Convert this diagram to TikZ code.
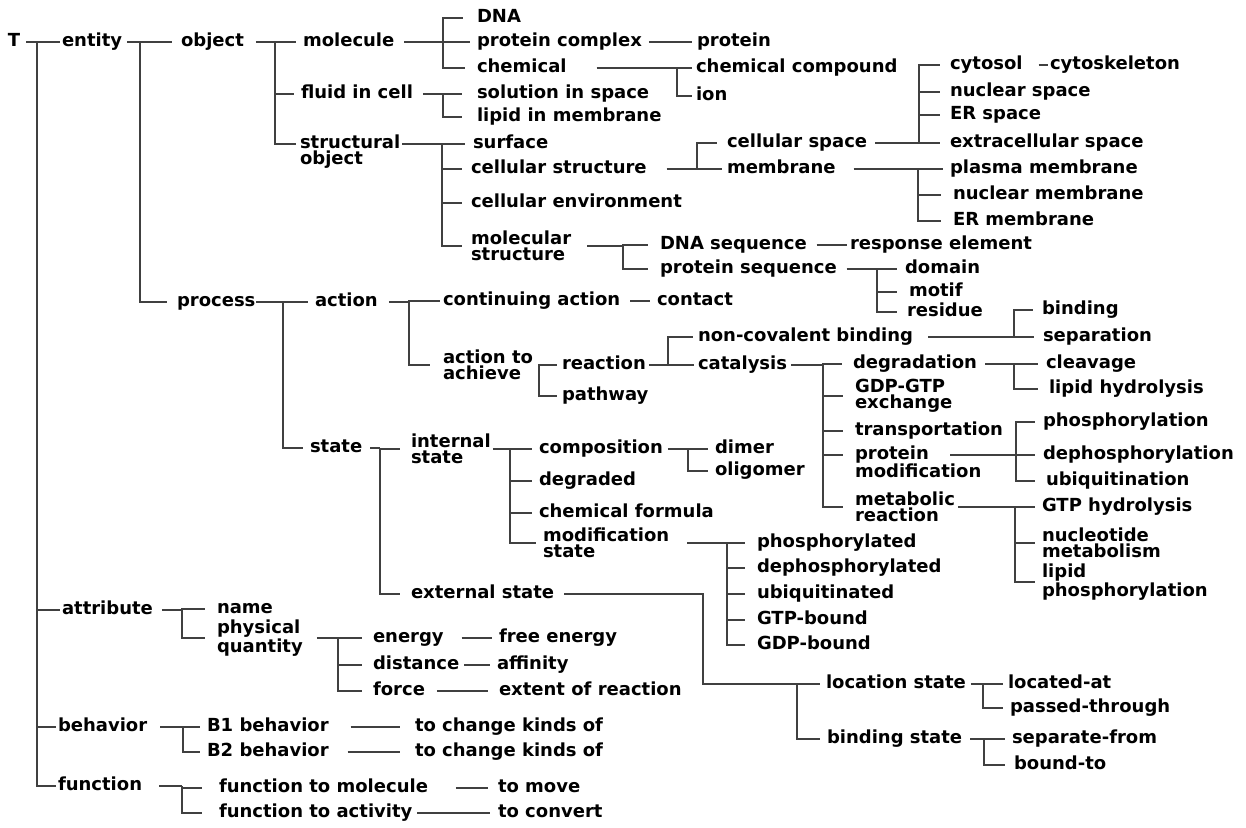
\documentclass[tikz,border=0pt]{standalone}
\usepackage{fontspec}
\newfontfamily\lblfam{DejaVu Sans}
\newcommand\lblfont{\lblfam\bfseries\fontsize{18pt}{16pt}\selectfont}
\newcommand\vt[2]{\vtop{\baselineskip=16pt\hbox{#1}\hbox{#2}}}
\tikzset{
  lbl/.style={anchor=west, inner sep=0pt, outer sep=0pt, font=\lblfont, text height=13pt, text depth=4pt},
  two/.style={lbl, align=left, text height=, text depth=},
  conn/.style={draw=black!75, line width=1.7pt},
}
% #1 start point, #2 parent, #3 bar x, #4 children as name/gap
\newcommand\mybr[4]{%
  \coordinate (bx) at (#3,0);
  \draw[conn] (#1) -- (#2.west -| bx);
  \foreach \c/\g in {#4} {\draw[conn] (#2.west -| bx) |- ([xshift=-\g pt]\c.west);}
}
\begin{document}
\begin{tikzpicture}[x=1pt,y=-1pt]
\useasboundingbox[fill=white] (0,0) rectangle (1246,827);
% ---------- nodes ----------
\node[lbl] (T) at (8,42) {T};
\node[lbl] (entity) at (62,42) {entity};
\node[lbl] (object) at (181,42) {object};
\node[lbl] (molecule) at (303,42) {molecule};
\node[lbl] (dna) at (477,18) {DNA};
\node[lbl] (pcomplex) at (477,42) {protein complex};
\node[lbl] (protein) at (697,42) {protein};
\node[lbl] (chemical) at (477,68) {chemical};
\node[lbl] (chemcomp) at (696,68) {chemical compound};
\node[lbl] (ion) at (696,96) {ion};
\node[lbl] (fluid) at (301,94) {fluid in cell};
\node[lbl] (solution) at (477,94) {solution in space};
\node[lbl] (lipidmem) at (477,117) {lipid in membrane};
\node[lbl] (structobj) at (300,144) {\vt{structural}{object}};
\node[lbl] (surface) at (473,144) {surface};
\node[lbl] (cellstruct) at (471,169) {cellular structure};
\node[lbl] (cellenv) at (471,203) {cellular environment};
\node[two] (molstruct) at (471,246) {molecular\\structure};
\node[lbl] (cellspace) at (727,143) {cellular space};
\node[lbl] (membrane) at (727,169) {membrane};
\node[lbl] (cytosol) at (950,65) {cytosol};
\node[lbl] (cytoskel) at (1050,65) {cytoskeleton};
\node[lbl] (nucspace) at (950,92) {nuclear space};
\node[lbl] (erspace) at (950,115) {ER space};
\node[lbl] (extraspace) at (950,143) {extracellular space};
\node[lbl] (plasma) at (950,169) {plasma membrane};
\node[lbl] (nucmem) at (953,195) {nuclear membrane};
\node[lbl] (ermem) at (953,221) {ER membrane};
\node[lbl] (dnaseq) at (660,245) {DNA sequence};
\node[lbl] (respel) at (850,245) {response element};
\node[lbl] (protseq) at (660,269) {protein sequence};
\node[lbl] (domain) at (905,269) {domain};
\node[lbl] (motif) at (909,292) {motif};
\node[lbl] (residue) at (907,312) {residue};
\node[lbl] (process) at (177,302) {process};
\node[lbl] (action) at (315,302) {action};
\node[lbl] (contaction) at (443,301) {continuing action};
\node[lbl] (contact) at (657,301) {contact};
\node[two] (achieve) at (443,365) {action to\\achieve};
\node[lbl] (reaction) at (562,365) {reaction};
\node[lbl] (pathway) at (562,396) {pathway};
\node[lbl] (noncov) at (698,337) {non-covalent binding};
\node[lbl] (catalysis) at (698,365) {catalysis};
\node[lbl] (binding) at (1042,310) {binding};
\node[lbl] (separation) at (1043,337) {separation};
\node[lbl] (degradation) at (853,364) {degradation};
\node[lbl] (cleavage) at (1046,364) {cleavage};
\node[lbl] (liphyd) at (1049,389) {lipid hydrolysis};
\node[two] (gdpgtp) at (855,396) {GDP-GTP\\exchange};
\node[lbl] (transport) at (855,431) {transportation};
\node[lbl] (protmod) at (855,455) {\vt{protein}{modification}};
\node[two] (metabolic) at (855,507) {metabolic\\reaction};
\node[lbl] (phosph) at (1043,422) {phosphorylation};
\node[lbl] (dephosph) at (1043,455) {dephosphorylation};
\node[lbl] (ubiq) at (1046,481) {ubiquitination};
\node[lbl] (gtphyd) at (1042,507) {GTP hydrolysis};
\node[two] (nucmet) at (1042,543) {nucleotide\\metabolism};
\node[two] (lipphos) at (1042,582) {lipid\\phosphorylation};
\node[lbl] (state) at (310,448) {state};
\node[two] (internal) at (411,449) {internal\\state};
\node[lbl] (composition) at (539,449) {composition};
\node[lbl] (dimer) at (715,449) {dimer};
\node[lbl] (oligomer) at (715,471) {oligomer};
\node[lbl] (degraded) at (539,481) {degraded};
\node[lbl] (chemform) at (539,513) {chemical formula};
\node[two] (modstate) at (543,543) {modification\\state};
\node[lbl] (phosphd) at (757,543) {phosphorylated};
\node[lbl] (dephosphd) at (757,568) {dephosphorylated};
\node[lbl] (ubiqd) at (757,594) {ubiquitinated};
\node[lbl] (gtpb) at (757,620) {GTP-bound};
\node[lbl] (gdpb) at (757,645) {GDP-bound};
\node[lbl] (extstate) at (411,594) {external state};
\node[lbl] (locstate) at (826,684) {location state};
\node[lbl] (locat) at (1008,684) {located-at};
\node[lbl] (passed) at (1010,708) {passed-through};
\node[lbl] (bindstate) at (827,739) {binding state};
\node[lbl] (sepfrom) at (1012,739) {separate-from};
\node[lbl] (boundto) at (1014,765) {bound-to};
\node[lbl] (attribute) at (62,610) {attribute};
\node[lbl] (name) at (217,609) {name};
\node[two] (physq) at (217,638) {physical\\quantity};
\node[lbl] (energy) at (373,638) {energy};
\node[lbl] (freeen) at (499,638) {free energy};
\node[lbl] (distance) at (373,665) {distance};
\node[lbl] (affinity) at (497,665) {affinity};
\node[lbl] (force) at (373,691) {force};
\node[lbl] (extent) at (499,691) {extent of reaction};
\node[lbl] (behavior) at (58,727) {behavior};
\node[lbl] (b1) at (207,727) {B1 behavior};
\node[lbl] (tochangeA) at (415,727) {to change kinds of};
\node[lbl] (b2) at (207,752) {B2 behavior};
\node[lbl] (tochangeB) at (415,752) {to change kinds of};
\node[lbl] (function) at (58,786) {function};
\node[lbl] (ftm) at (219,788) {function to molecule};
\node[lbl] (ftmove) at (498,788) {to move};
\node[lbl] (fta) at (219,813) {function to activity};
\node[lbl] (toconvert) at (498,813) {to convert};
% ---------- connectors ----------
\mybr{[xshift=6pt]T.east}{T}{37}{entity/2,attribute/2,behavior/2,function/2}
\mybr{[xshift=5pt]entity.east}{entity}{140}{object/9,process/10}
\mybr{[xshift=12pt]object.east}{object}{275}{molecule/7,fluid/7,structobj/4}
\mybr{[xshift=10pt]molecule.east}{molecule}{443}{dna/14,pcomplex/7,chemical/12}
\mybr{[xshift=7pt]pcomplex.east}{pcomplex}{670}{protein/5}
\mybr{[xshift=30pt]chemical.east}{chemical}{677}{chemcomp/4,ion/4}
\mybr{[xshift=10pt]fluid.east}{fluid}{443}{solution/15,lipidmem/15}
\mybr{[xshift=2pt]structobj.east}{structobj}{442}{surface/8,cellstruct/9,cellenv/9,molstruct/9}
\mybr{[xshift=20pt]cellstruct.east}{cellstruct}{697}{cellspace/10,membrane/5}
\mybr{[xshift=8pt]cellspace.east}{cellspace}{919}{cytosol/10,nucspace/10,erspace/10,extraspace/10}
\mybr{[xshift=16pt]cytosol.east}{cytosol}{1045}{cytoskel/2}
\mybr{[xshift=18pt]membrane.east}{membrane}{918}{plasma/7,nucmem/12,ermem/12}
\mybr{[xshift=16pt]molstruct.east}{molstruct}{623}{dnaseq/12,protseq/12}
\mybr{[xshift=10pt]dnaseq.east}{dnaseq}{835}{respel/3}
\mybr{[xshift=10pt]protseq.east}{protseq}{877}{domain/8,motif/12,residue/10}
\mybr{[xshift=1pt]process.east}{process}{283}{action/7,state/7}
\mybr{[xshift=11pt]action.east}{action}{409}{contaction/3,achieve/13}
\mybr{[xshift=10pt]contaction.east}{contaction}{640}{contact/7}
\mybr{[xshift=5pt]achieve.east}{achieve}{539}{reaction/5,pathway/5}
\mybr{[xshift=3pt]reaction.east}{reaction}{668}{noncov/5,catalysis/4}
\mybr{[xshift=15pt]noncov.east}{noncov}{1014}{binding/9,separation/9}
\mybr{[xshift=4pt]catalysis.east}{catalysis}{823}{degradation/11,gdpgtp/12,transport/12,protmod/12,metabolic/12}
\mybr{[xshift=8pt]degradation.east}{degradation}{1014}{cleavage/8,liphyd/11}
\mybr{[xshift=95pt]protmod.west}{protmod}{1016}{phosph/8,dephosph/8,ubiq/11}
\mybr{[xshift=3pt]metabolic.east}{metabolic}{1015}{gtphyd/7,nucmet/7,lipphos/7}
\mybr{[xshift=8pt]state.east}{state}{380}{internal/11,extstate/11}
\mybr{[xshift=2pt]internal.east}{internal}{510}{composition/7,degraded/7,chemform/7,modstate/7}
\mybr{[xshift=5pt]composition.east}{composition}{688}{dimer/7,oligomer/7}
\mybr{[xshift=18pt]modstate.east}{modstate}{727}{phosphd/12,dephosphd/12,ubiqd/12,gtpb/12,gdpb/12}
\coordinate (exta) at (703,0);
\coordinate (extb) at (797,0);
\draw[conn] ([xshift=10pt]extstate.east) -- (extstate.west -| exta) |- ([xshift=-6pt]locstate.west);
\draw[conn] (locstate.west -| extb) |- ([xshift=-7pt]bindstate.west);
\mybr{[xshift=5pt]locstate.east}{locstate}{983}{locat/5,passed/7}
\mybr{[xshift=8pt]bindstate.east}{bindstate}{984}{sepfrom/7,boundto/9}
\mybr{[xshift=9pt]attribute.east}{attribute}{182}{name/12,physq/12}
\mybr{[xshift=14pt]physq.east}{physq}{338}{energy/11,distance/11,force/11}
\mybr{[xshift=18pt]energy.east}{energy}{475}{freeen/7}
\mybr{[xshift=5pt]distance.east}{distance}{478}{affinity/7}
\mybr{[xshift=12pt]force.east}{force}{460}{extent/11}
\mybr{[xshift=13pt]behavior.east}{behavior}{183}{b1/7,b2/7}
\mybr{[xshift=22pt]b1.east}{b1}{380}{tochangeA/15}
\mybr{[xshift=19pt]b2.east}{b2}{380}{tochangeB/15}
\mybr{[xshift=17pt]function.east}{function}{182}{ftm/17,fta/17}
\mybr{[xshift=28pt]ftm.east}{ftm}{470}{ftmove/10}
\mybr{[xshift=5pt]fta.east}{fta}{460}{toconvert/8}
\end{tikzpicture}
\end{document}
